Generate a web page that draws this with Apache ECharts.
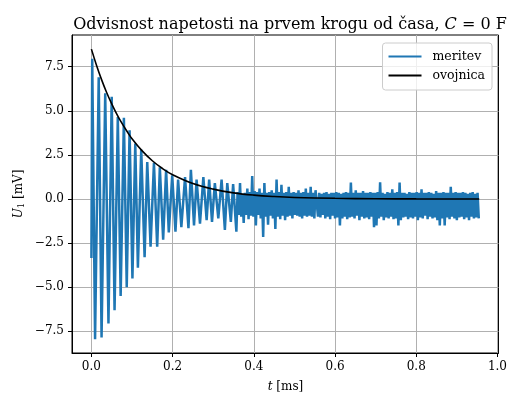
<!DOCTYPE html>
<html>
<head>
<meta charset="utf-8">
<script src="https://cdn.jsdelivr.net/npm/echarts@6/dist/echarts.min.js"></script>
<style>
  html, body { margin: 0; padding: 0; background: #fff; }
  #main { width: 510px; height: 394px; }
</style>
</head>
<body>
<div id="main"></div>
<script>
// meritev - measured voltage (mV) vs time (ms), read peak by peak from the plot
var times = [
  0, 0.002, 0.009, 0.018, 0.025, 0.034, 0.042, 0.050, 0.057, 0.065,
  0.072, 0.080, 0.087, 0.094, 0.101, 0.108, 0.1145, 0.1227, 0.131, 0.1375,
  0.1457, 0.154, 0.162, 0.1685, 0.1767, 0.184, 0.1906, 0.199, 0.207, 0.2135,
  0.2215, 0.2306, 0.239, 0.245, 0.2527, 0.259, 0.2674, 0.2757, 0.2838, 0.290,
  0.297, 0.304, 0.3125, 0.3206, 0.3287, 0.3346, 0.3434, 0.349,
  0.357, 0.360, 0.363, 0.366, 0.369, 0.372, 0.375, 0.378, 0.381, 0.384,
  0.387, 0.390, 0.393, 0.396, 0.399, 0.402, 0.405, 0.408, 0.411, 0.414,
  0.417, 0.420, 0.423, 0.426, 0.429, 0.432, 0.435, 0.438, 0.441, 0.444,
  0.447, 0.450, 0.453, 0.456, 0.459, 0.462, 0.465, 0.468, 0.471, 0.474,
  0.477, 0.480, 0.483, 0.486, 0.489, 0.492, 0.495, 0.498, 0.501, 0.504,
  0.507, 0.510, 0.513, 0.516, 0.519, 0.522, 0.525, 0.528, 0.531, 0.534,
  0.537, 0.540, 0.543, 0.546, 0.549, 0.552,
  0.558, 0.561, 0.564, 0.567, 0.570, 0.573, 0.576, 0.579, 0.582, 0.585,
  0.588, 0.591, 0.594, 0.597, 0.600, 0.603, 0.606, 0.609, 0.612, 0.615,
  0.618, 0.621, 0.624, 0.627, 0.630, 0.633, 0.636, 0.639, 0.642, 0.645,
  0.648, 0.651, 0.654, 0.657, 0.660, 0.663, 0.666, 0.669, 0.672, 0.675,
  0.678, 0.681, 0.684, 0.687, 0.690, 0.693, 0.696, 0.699, 0.702, 0.705,
  0.708, 0.711, 0.714, 0.717, 0.720, 0.723, 0.726, 0.729, 0.732, 0.735,
  0.738, 0.741, 0.744, 0.747, 0.750, 0.753, 0.756, 0.759, 0.762, 0.765,
  0.768, 0.771, 0.774, 0.777, 0.780, 0.783, 0.786, 0.789, 0.792, 0.795,
  0.798, 0.801, 0.804, 0.807, 0.810, 0.813, 0.816, 0.819, 0.822, 0.825,
  0.828, 0.831, 0.834, 0.837, 0.840, 0.843, 0.846, 0.849, 0.852, 0.855,
  0.858, 0.861, 0.864, 0.867, 0.870, 0.873, 0.876, 0.879, 0.882, 0.885,
  0.888, 0.891, 0.894, 0.897, 0.900, 0.903, 0.906, 0.909, 0.912, 0.915,
  0.918, 0.921, 0.924, 0.927, 0.930, 0.933, 0.936, 0.939, 0.942, 0.945,
  0.948, 0.951, 0.954
];
var volts = [
  -3.35, 7.95, -7.95, 6.9, -7.85, 6.0, -7.05, 5.8, -6.3, 4.65,
  -5.5, 4.6, -5.0, 3.9, -4.5, 3.15, -3.9, 2.8, -3.3, 2.1,
  -2.7, 2.05, -2.7, 1.8, -2.3, 1.65, -1.9, 1.35, -1.85, 1.1,
  -1.6, 1.25, -1.65, 1.65, -1.5, 1.1, -1.4, 1.25, -1.2, 1.1,
  -1.3, 0.9, -1.1, 1.1, -1.75, 0.9, -1.3, 0.85,
  -1.85, 0.4, -0.9, 0.9, -1.0, 0.3, -1.35, 0.35, -0.9, 0.6,
  -1.15, 0.4, -0.95, 1.3, -1.0, 0.45, -1.5, 0.4, -0.9, 0.6,
  -1.1, 0.35, -2.15, 0.9, -1.0, 0.35, -1.45, 0.4, -0.95, 0.5,
  -1.1, 0.35, -1.7, 1.1, -1.0, 0.4, -1.15, 0.8, -0.95, 0.35,
  -1.2, 0.4, -1.0, 0.7, -0.95, 0.35, -1.1, 0.4, -0.9, 0.35,
  -0.95, 0.5, -1.0, 0.35, -1.1, 0.4, -0.95, 0.6, -1.0, 0.35,
  -0.95, 0.7, -1.0, 0.35, -1.1, 0.5,
  -1.0, 0.35, -1.05, 0.3, -0.9, 0.35, -1.1, 0.4, -1.0, 0.3,
  -1.15, 0.35, -0.95, 0.35, -1.1, 0.4, -1.05, 0.35, -1.5, 0.3,
  -1.1, 0.35, -1.0, 0.4, -1.15, 0.35, -1.05, 0.93, -1.0, 0.35,
  -1.1, 0.5, -0.95, 0.35, -1.2, 0.35, -1.0, 0.45, -1.1, 0.35,
  -1.05, 0.35, -1.15, 0.4, -1.0, 0.35, -1.6, 0.35, -1.5, 0.4,
  -1.1, 0.95, -1.0, 0.35, -1.2, 0.3, -1.05, 0.4, -1.1, 0.35,
  -1.0, 0.55, -1.15, 0.35, -1.1, 0.4, -1.5, 0.93, -1.2, 0.35,
  -1.05, 0.35, -1.0, 0.3, -1.15, 0.4, -1.05, 0.35, -1.1, 0.35,
  -1.0, 0.4, -1.2, 0.35, -1.05, 0.55, -1.1, 0.35, -0.95, 0.35,
  -1.15, 0.4, -1.0, 0.35, -1.1, 0.3, -1.05, 0.45, -1.2, 0.35,
  -1.5, 0.35, -1.1, 0.4, -1.5, 0.35, -1.05, 0.35, -1.15, 0.7,
  -1.0, 0.35, -1.1, 0.4, -1.2, 0.35, -1.05, 0.35, -1.0, 0.4,
  -1.15, 0.35, -1.05, 0.3, -1.2, 0.35, -1.0, 0.4, -1.1, 0.3,
  -1.05, 0.35, -1.1
];

// ovojnica - envelope
var envTimes = [0, 0.0125, 0.025, 0.0375, 0.05, 0.0625, 0.075, 0.0875, 0.1, 0.125,
  0.15, 0.175, 0.2, 0.25, 0.3, 0.35, 0.4, 0.45, 0.5, 0.6, 0.7, 0.8, 0.955];
var envVolts = [8.5, 7.59, 6.77, 6.04, 5.4, 4.82, 4.3, 3.84, 3.42, 2.73,
  2.17, 1.73, 1.38, 0.88, 0.56, 0.35, 0.22, 0.14, 0.09, 0.04, 0.015, 0.006, 0.002];

var xTicks = [0, 0.2, 0.4, 0.6, 0.8, 1.0];
var yTicks = [-7.5, -5, -2.5, 0, 2.5, 5, 7.5];

var serif = 'DejaVu Serif';

var chart = echarts.init(document.getElementById('main'));
chart.setOption({
  animation: false,
  title: {
    text: 'Odvisnost napetosti na prvem krogu od časa, {i|C} = 0 F',
    left: 285, top: 12, textAlign: 'center',
    textStyle: {
      fontFamily: serif, fontSize: 16, fontWeight: 'normal', color: '#000',
      rich: { i: { fontFamily: serif, fontSize: 16, fontStyle: 'italic', color: '#000' } }
    }
  },
  legend: {
    orient: 'vertical', right: 18, top: 43,
    padding: [7, 7, 8, 6], itemGap: 6,
    itemWidth: 33, itemHeight: 2, icon: 'rect',
    backgroundColor: 'rgba(255,255,255,0.8)', borderColor: '#cccccc', borderWidth: 1, borderRadius: 3,
    textStyle: { fontFamily: serif, fontSize: 12.5, color: '#000', padding: [0, 0, 0, 6] },
    data: ['meritev', 'ovojnica']
  },
  grid: {
    left: 72, right: 11, top: 35, bottom: 41,
    show: true, borderColor: '#000', borderWidth: 1
  },
  xAxis: {
    type: 'value', min: -0.0478, max: 1.0025,
    axisLine: { show: true, onZero: false, lineStyle: { color: '#000', width: 1 } },
    axisTick: { show: true, customValues: xTicks, length: 4, lineStyle: { color: '#000' } },
    axisLabel: {
      customValues: xTicks, margin: 8, color: '#000', fontFamily: serif, fontSize: 12,
      formatter: function (v) { return v.toFixed(1); }
    },
    splitLine: { show: true, lineStyle: { color: '#b0b0b0', width: 1 } }
  },
  yAxis: {
    type: 'value', min: -8.73, max: 9.3,
    axisLine: { show: true, onZero: false, lineStyle: { color: '#000', width: 1 } },
    axisTick: { show: true, customValues: yTicks, length: 4, lineStyle: { color: '#000' } },
    axisLabel: {
      customValues: yTicks, margin: 8, color: '#000', fontFamily: serif, fontSize: 12,
      formatter: function (v) { return (v < 0 ? '\u2212' : '') + Math.abs(v).toFixed(1); }
    },
    splitLine: { show: true, lineStyle: { color: '#b0b0b0', width: 1 } }
  },
  graphic: [
    {
      type: 'text', x: 285.5, y: 387,
      style: {
        text: '{i|t} [ms]', fill: '#000', align: 'center', verticalAlign: 'middle',
        font: '12px "DejaVu Serif"',
        rich: { i: { fontStyle: 'italic', fontFamily: serif, fontSize: 12 } }
      }
    },
    {
      type: 'text', x: 19, y: 194, rotation: Math.PI / 2,
      style: {
        text: '{i|U}{s|1} [mV]', fill: '#000', align: 'center', verticalAlign: 'middle',
        font: '12px "DejaVu Serif"',
        rich: {
          i: { fontStyle: 'italic', fontFamily: serif, fontSize: 12 },
          s: { fontFamily: serif, fontSize: 8.5, padding: [6, 0, 0, 0] }
        }
      }
    }
  ],
  series: [
    {
      name: 'meritev', type: 'line', showSymbol: false, symbol: 'none',
      color: '#1f77b4', lineStyle: { width: 2.5, color: '#1f77b4' },
      data: times.map(function (t, i) { return [t, volts[i]]; })
    },
    {
      name: 'ovojnica', type: 'line', showSymbol: false, symbol: 'none', smooth: 0.4,
      color: '#000', lineStyle: { width: 1.6, color: '#000' },
      data: envTimes.map(function (t, i) { return [t, envVolts[i]]; })
    }
  ]
});
</script>
</body>
</html>
